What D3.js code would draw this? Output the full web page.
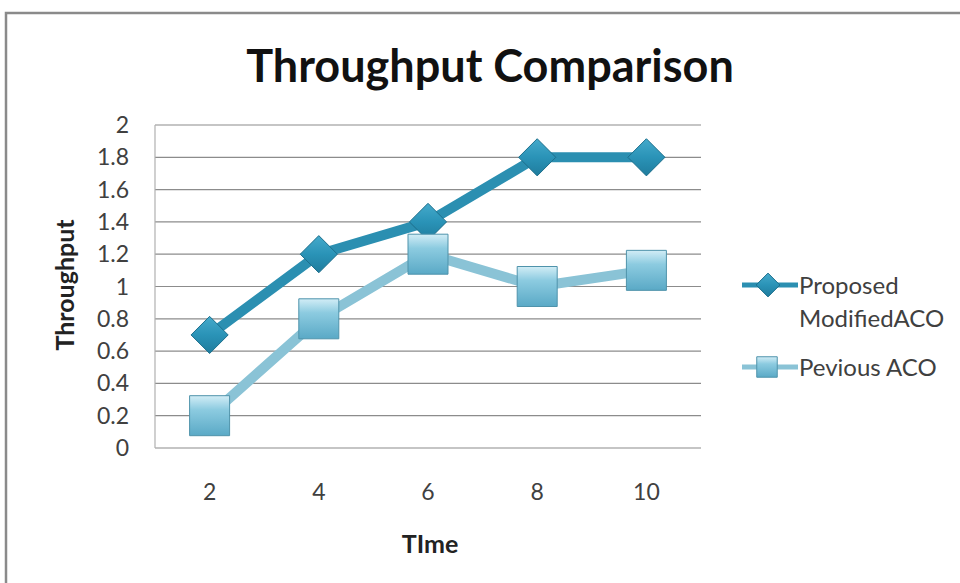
<!DOCTYPE html>
<html>
<head>
<meta charset="utf-8">
<script src="https://cdn.jsdelivr.net/npm/d3@7"></script>
<style>
  body { margin: 0; background: #fff; }
  svg { display: block; font-family: Lato, "Open Sans", sans-serif; }
</style>
</head>
<body>
<svg id="chart" width="960" height="583"></svg>
<script>
var times = ["2", "4", "6", "8", "10"];
var proposed = [0.7, 1.2, 1.4, 1.8, 1.8];
var previous = [0.2, 0.8, 1.2, 1.0, 1.1];
var yTicks = [0, 0.2, 0.4, 0.6, 0.8, 1, 1.2, 1.4, 1.6, 1.8, 2];
var seriesNames = ["Proposed ModifiedACO", "Pevious ACO"];

var svg = d3.select("#chart");
const plot = {left: 155, right: 701, top: 125, bottom: 448};

// outer chart frame (cut off at right and bottom)
svg.append("path")
    .attr("d", "M6,590 L6,13 L970,13")
    .attr("fill", "none")
    .attr("stroke", "#8a8a8a")
    .attr("stroke-width", 2.5);

var defs = svg.append("defs");
var gDia = defs.append("linearGradient").attr("id", "gDia")
    .attr("x1", 0).attr("y1", 0).attr("x2", 0).attr("y2", 1);
gDia.append("stop").attr("offset", "0%").attr("stop-color", "#45aacb");
gDia.append("stop").attr("offset", "50%").attr("stop-color", "#2a93b7");
gDia.append("stop").attr("offset", "100%").attr("stop-color", "#1f7c9d");
var gSq = defs.append("linearGradient").attr("id", "gSq")
    .attr("x1", 0).attr("y1", 0).attr("x2", 0).attr("y2", 1);
gSq.append("stop").attr("offset", "0%").attr("stop-color", "#d2edf6");
gSq.append("stop").attr("offset", "35%").attr("stop-color", "#8ccbe0");
gSq.append("stop").attr("offset", "100%").attr("stop-color", "#5aa9c6");

var x = d3.scaleBand().domain(times).range([plot.left, plot.right]);
var y = d3.scaleLinear().domain([0, 2]).range([plot.bottom, plot.top]);

// gridlines
svg.append("g").selectAll("line")
    .data(yTicks).join("line")
    .attr("x1", plot.left).attr("x2", plot.right)
    .attr("y1", d => y(d)).attr("y2", d => y(d))
    .attr("stroke", "#8c8c8c").attr("stroke-width", 1.2);
svg.append("line")
    .attr("x1", plot.left).attr("x2", plot.left)
    .attr("y1", plot.top).attr("y2", plot.bottom)
    .attr("stroke", "#b0b0b0").attr("stroke-width", 1.2);

// y tick labels
svg.append("g").selectAll("text")
    .data(yTicks).join("text")
    .attr("x", 129).attr("y", d => y(d))
    .attr("dy", "0.35em")
    .attr("text-anchor", "end")
    .attr("font-size", 23).attr("fill", "#404040")
    .text(d => d3.format("~g")(d));

// x tick labels
svg.append("g").selectAll("text")
    .data(times).join("text")
    .attr("x", d => x(d) + x.bandwidth() / 2).attr("y", 500)
    .attr("text-anchor", "middle")
    .attr("font-size", 23).attr("fill", "#404040")
    .text(d => d);

// titles
svg.append("text")
    .attr("x", 490).attr("y", 82)
    .attr("text-anchor", "middle")
    .attr("font-size", 45).attr("font-weight", "bold").attr("fill", "#111")
    .text("Throughput Comparison");
svg.append("text")
    .attr("x", 430).attr("y", 553)
    .attr("text-anchor", "middle")
    .attr("font-size", 25).attr("font-weight", "bold").attr("fill", "#222")
    .text("TIme");
svg.append("text")
    .attr("transform", "translate(74,285) rotate(-90)")
    .attr("text-anchor", "middle")
    .attr("font-size", 25).attr("font-weight", "bold").attr("fill", "#222")
    .text("Throughput");

var line = d3.line()
    .x((d, i) => x(times[i]) + x.bandwidth() / 2)
    .y(d => y(d));

// previous ACO
svg.append("path").datum(previous)
    .attr("d", line).attr("fill", "none")
    .attr("stroke", "#8ac3d6").attr("stroke-width", 10)
    .attr("stroke-linejoin", "round");
// proposed
svg.append("path").datum(proposed)
    .attr("d", line).attr("fill", "none")
    .attr("stroke", "#2b8fb1").attr("stroke-width", 10)
    .attr("stroke-linejoin", "round");

var diamond = d3.symbol().type(d3.symbolDiamond2);
var square = d3.symbol().type(d3.symbolSquare);

svg.append("g").selectAll("path")
    .data(proposed).join("path")
    .attr("transform", (d, i) => "translate(" + (x(times[i]) + x.bandwidth() / 2) + "," + y(d) + ")")
    .attr("d", diamond.size(880))
    .attr("fill", "url(#gDia)").attr("stroke", "#1d6f8c").attr("stroke-width", 1);

svg.append("g").selectAll("path")
    .data(previous).join("path")
    .attr("transform", (d, i) => "translate(" + (x(times[i]) + x.bandwidth() / 2) + "," + y(d) + ")")
    .attr("d", square.size(1600))
    .attr("fill", "url(#gSq)").attr("stroke", "#4f93ab").attr("stroke-width", 1);

// legend
var legend = svg.append("g");
legend.append("line").attr("x1", 742).attr("x2", 798).attr("y1", 285).attr("y2", 285)
    .attr("stroke", "#2b8fb1").attr("stroke-width", 5);
legend.append("path").attr("transform", "translate(768,285)")
    .attr("d", diamond.size(360))
    .attr("fill", "url(#gDia)").attr("stroke", "#1d6f8c");
legend.append("text").attr("x", 799).attr("y", 294)
    .attr("font-size", 24).attr("fill", "#404040").text("Proposed");
legend.append("text").attr("x", 799).attr("y", 327)
    .attr("font-size", 24).attr("fill", "#404040").text("ModifiedACO");

legend.append("line").attr("x1", 742).attr("x2", 798).attr("y1", 367).attr("y2", 367)
    .attr("stroke", "#8ac3d6").attr("stroke-width", 5);
legend.append("path").attr("transform", "translate(767,367)")
    .attr("d", square.size(420))
    .attr("fill", "url(#gSq)").attr("stroke", "#4f93ab");
legend.append("text").attr("x", 799).attr("y", 376)
    .attr("font-size", 24).attr("fill", "#404040").text("Pevious ACO");
</script>
</body>
</html>
